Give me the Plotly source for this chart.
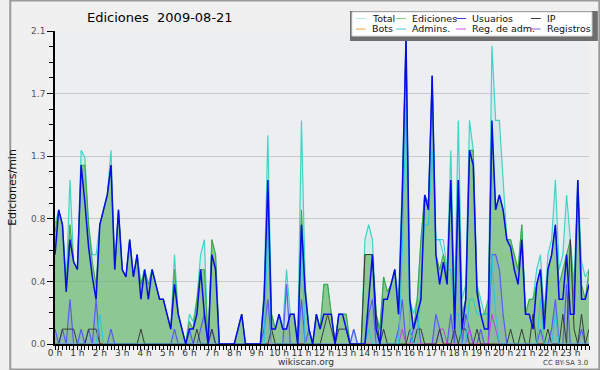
import plotly.graph_objects as go

# 10-minute slots, 0 h .. 23:50
slots = list(range(144))
hour_ticks = list(range(0, 144, 6))
hour_labels = [f"{h} h" for h in range(24)]
y_tickvals = [0, 0.42, 0.84, 1.26, 1.68, 2.1]
y_ticktext = ["0.0", "0.4", "0.8", "1.3", "1.7", "2.1"]

total = [.8,.9,.8,.4,1.1,.55, .5,1.3,1.25,.8,.6,.6, .8,.9,1.0,1.3,.5,.9, .5,.45,.7,.45,.6,.4,
         .5,.4,.5,.4,.3,.3, .2,.1,.6,.2,.1,0, .2,.15,.3,.6,.7,0, .7,.6,0,0,0,0,
         0,.1,.2,0,0,0, 0,0,.35,1.4,.2,.1, .2,.1,.5,.2,.2,0, 1.5,.4,.1,0,.2,.1,
         .4,.4,.2,0,.2,.2, .2,0,.1,0,0,.7, .8,.7,.2,.1,.45,.35, .4,.5,.3,1.1,2.05,.3,
         .2,.3,.7,1.0,.95,1.8, .7,.7,.6,.5,1.3,.3, 1.5,.3,.4,1.5,1.3,.4, .3,.2,.2,2.0,1.5,1.5,
         1.1,.7,.7,.6,.5,.8, .2,.3,.3,.5,.6,.2, .6,.7,1.1,.5,.6,1.0, .7,.4,1.1,.55,.45,.5]
ediciones = [.75,.9,.8,.4,.8,.55, .5,1.2,1.2,.8,.55,.4, .8,.9,1.0,1.2,.5,.9, .5,.45,.7,.45,.6,.4,
             .5,.4,.5,.4,.3,.3, .2,.1,.5,.2,.1,0, .15,.1,.3,.5,.5,0, .7,.6,0,0,0,0,
             0,.1,.2,0,0,0, 0,0,.35,1.0,.2,.1, .2,.1,.1,.2,.2,0, .9,.35,.1,0,.2,.1,
             .4,.4,.2,0,.2,.2, .2,0,0,0,0,.6, .6,.6,.2,.1,.45,.35, .4,.5,.2,1.0,2.05,.3,
             .1,.3,.7,1.0,.95,1.8, .6,.5,.6,.45,1.1,.2, 1.1,.2,.3,1.3,1.3,.4, .2,.2,.3,1.45,.9,1.0,
             .9,.7,.7,.6,.5,.8, .2,.3,.3,.4,.5,.2, .5,.6,.8,.4,.5,.6, .7,.3,1.1,.4,.3,.5]
usuarios = [.6,.9,.8,.35,.7,.55, .5,1.2,.95,.65,.45,.3, .8,.9,1.0,1.2,.5,.9, .5,.45,.7,.45,.6,.3,
            .5,.3,.5,.4,.3,.3, .2,.1,.4,.2,.1,0, .1,.1,.2,.5,.2,0, .6,.5,0,0,0,0,
            0,.1,.2,0,0,0, 0,0,.3,1.1,.1,.1, .2,.1,.1,.2,.2,0, .8,.35,.1,0,.2,.1,
            .2,.2,.2,0,.2,.2, .1,0,0,0,0,0, .3,.6,.1,0,.3,.3, .4,.5,.2,1.0,2.05,.3,
            .1,.2,.3,1.0,.9,1.8, .6,.4,.55,.4,1.1,.1, 1.1,.1,.3,1.3,1.2,.35, .2,.1,.1,1.5,.9,1.0,
            .9,.7,.65,.5,.4,.7, .2,.2,.1,.4,.5,.1, .5,.6,.8,.3,.3,.6, .2,.2,1.1,.3,.3,.4]
ip = [0,0,.1,.1,.1,.1, 0,0,0,.1,.1,.1, 0,0,0,0,0,0, 0,0,0,0,0,.1,
      0,0,0,0,0,0, 0,0,0,0,0,0, 0,0,.1,0,0,0, .1,0,0,0,0,0,
      0,0,0,0,0,0, 0,0,0,0,.1,0, 0,0,0,0,0,0, 0,0,0,0,0,0,
      .1,.2,.1,0,.1,.1, .1,0,0,0,0,.6, .6,.6,.2,0,.1,0, 0,0,0,0,0,.1,
      0,.1,.1,0,0,0, 0,.1,0,0,0,.1, 0,.1,.1,0,0,.1, 0,0,0,0,0,0,
      0,0,.1,0,0,.1, 0,0,.2,0,0,0, .1,0,0,0,.2,0, .7,.1,0,.2,0,.1]
registros = [.1,0,.1,0,.3,0, 0,.1,0,.1,0,.3, 0,0,0,.1,0,0, 0,0,0,0,0,0,
             0,0,0,0,0,0, 0,0,.1,0,0,0, .1,0,0,.1,.2,0, .1,0,0,0,0,0,
             0,0,0,0,0,0, 0,0,.1,.3,0,0, 0,0,.4,0,0,0, .3,0,.1,0,0,0,
             0,0,0,0,0,0, 0,0,.1,0,0,0, .2,.3,0,0,0,0, 0,0,.1,.3,0,0,
             .1,.2,0,0,0,0, .2,.1,0,0,.2,0, 1.1,0,.2,.1,0,0, .1,0,0,.6,.6,.5,
             .2,0,0,0,0,0, 0,0,0,0,.1,0, 0,.1,.3,0,0,.4, 0,0,0,.1,0,0]
admins = [0,0,0,0,0,0, 0,0,0,0,0,0, .2,0,0,0,0,0, 0,0,0,0,0,0,
          0,0,0,0,0,0, 0,0,0,0,0,0, 0,0,0,0,0,0, 0,0,0,0,0,0,
          0,0,0,0,0,0, 0,0,0,.8,0,0, 0,0,0,0,0,0, .8,0,0,0,0,0,
          0,0,0,0,0,0, 0,0,0,0,0,0, .1,0,0,0,0,0, 0,0,0,.6,1.6,.1,
          0,0,.4,.8,.8,1.3, .7,.7,.7,.5,.5,.2, .2,0,0,.3,.3,.2, .2,.2,.2,.6,.2,0,
          0,0,0,0,0,0, 0,0,0,0,.3,0, 0,0,.2,0,0,0, 0,0,0,0,0,0]
reg_adm = [0]*93 + [.1] + [0]*9 + [.1,.1] + [0]*6 + [.1] + [0]*5 + [.2,.1] + [0]*25
bots = [0]*144

fig = go.Figure()

def add(name, y, color, width=1.0, fill=None, fillcolor=None):
    fig.add_trace(go.Scatter(x=slots, y=y, name=name, mode="lines",
                             line=dict(color=color, width=width),
                             fill=fill, fillcolor=fillcolor, showlegend=False))

add("Total", total, "#40d4c8", 1.2, "tozeroy", "rgba(120,215,205,0.18)")
add("Ediciones", ediciones, "#3aa83a", 1.0, "tozeroy", "rgba(95,178,95,0.62)")
add("Registros", registros, "#5a5af5", 1.2, "tozeroy", "rgba(110,110,240,0.12)")
add("Bots", bots, "#f0a040", 1.0)
add("Reg. de adm.", reg_adm, "#c040e0", 1.0)
add("IP", ip, "#3a3a3a", 1.0)
add("Admins.", admins, "#28c8e0", 1.0)
add("Usuarios", usuarios, "#0a0ae8", 1.5)

L, T, W, H = 46, 31, 543, 313
def px(x): return (x - L) / W
def py(y): return (T + H - y) / H

shapes = [
    dict(type="rect", xref="paper", yref="paper", x0=px(0.5), x1=px(599.5), y0=py(369.5), y1=py(0.5),
         line=dict(color="#9a9a9a", width=2), layer="below"),
    dict(type="rect", xref="paper", yref="paper", x0=px(346), x1=px(598), y0=py(41), y1=py(11),
         fillcolor="#6e6e6e", line=dict(width=0)),
    dict(type="rect", xref="paper", yref="paper", x0=px(348), x1=px(592), y0=py(36), y1=py(12),
         fillcolor="white", line=dict(color="#d8d8d8", width=1)),
]
annotations = [
    dict(text="Ediciones  2009-08-21", x=px(153), y=py(17), xref="paper", yref="paper",
         xanchor="center", yanchor="middle",
         showarrow=False, font=dict(family="DejaVu Sans", size=13, color="#000")),
    dict(text="wikiscan.org", x=px(301), y=py(362), xref="paper", yref="paper",
         xanchor="center", yanchor="middle",
         showarrow=False, font=dict(family="DejaVu Sans", size=9, color="#333")),
    dict(text="CC BY-SA 3.0", x=px(590), y=py(363), xref="paper", yref="paper",
         xanchor="right", yanchor="middle",
         showarrow=False, font=dict(family="DejaVu Sans", size=7, color="#444")),
]
legend_items = [
    ("Total", "#b4e8e6", 352, 18.5), ("Ediciones", "#86cf86", 393, 18.5),
    ("Usuarios", "#3c3ce6", 454, 18.5), ("IP", "#3a3a3a", 530, 18.5),
    ("Bots", "#f0a040", 352, 29), ("Admins.", "#40c8e0", 393, 29),
    ("Reg. de adm.", "#d050e0", 454, 29), ("Registros", "#7070f0", 530, 29),
]
for name, col, lx, ly in legend_items:
    shapes.append(dict(type="line", xref="paper", yref="paper", x0=px(lx), x1=px(lx + 10),
                       y0=py(ly), y1=py(ly), line=dict(color=col, width=1)))
    annotations.append(dict(text=name, x=px(lx + 14), y=py(ly), xref="paper", yref="paper",
                            xanchor="left", yanchor="middle", showarrow=False,
                            font=dict(family="DejaVu Sans", size=9.5, color="#111")))

fig.update_layout(
    width=600, height=370,
    margin=dict(l=L, r=600 - L - W, t=T, b=370 - T - H),
    paper_bgcolor="#f0f0f0", plot_bgcolor="#eceef0",
    shapes=shapes, annotations=annotations, showlegend=False,
    font=dict(family="DejaVu Sans", size=9, color="#444"),
)
fig.update_xaxes(range=[0, 143], tickvals=hour_ticks, ticktext=hour_labels,
                 showgrid=False, zeroline=False, showline=True, linecolor="black", linewidth=1.5,
                 ticks="outside", ticklen=4, tickcolor="black", tickfont=dict(size=9, color="#333"),
                 ticklabelstandoff=-5,
                 minor=dict(dtick=1, tick0=0, ticks="outside", ticklen=4, tickcolor="black", showgrid=False))
fig.update_yaxes(range=[0, 2.1], tickvals=y_tickvals, ticktext=y_ticktext,
                 showgrid=True, gridcolor="#cacaca", gridwidth=1, zeroline=False,
                 showline=True, linecolor="black", linewidth=1.5,
                 ticks="outside", ticklen=6, tickcolor="black", tickfont=dict(size=9, color="#555"),
                 title=dict(text="Ediciones/min", font=dict(family="DejaVu Sans", size=11, color="#111"), standoff=12),
                 minor=dict(tick0=0, dtick=0.105, ticks="outside", ticklen=4,
                            tickcolor="black", showgrid=False))
fig.write_html("out.html", config={"displayModeBar": False},
               post_script="document.body.style.margin='0';")
